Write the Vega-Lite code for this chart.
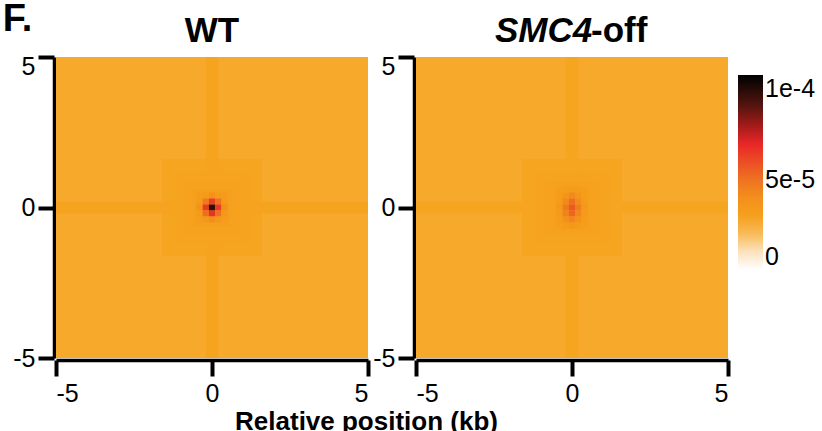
{
  "$schema": "https://vega.github.io/schema/vega-lite/v6.json",
  "background": "white",
  "padding": {"left": 2, "top": 1, "right": 0, "bottom": 0},
  "config": {
    "font": "Liberation Sans",
    "view": {"stroke": null},
    "title": {"fontSize": 35, "fontWeight": "bold", "color": "black", "frame": "group", "offset": 5},
    "axis": {
      "grid": false,
      "domainColor": "black",
      "domainWidth": 3.5,
      "tickColor": "black",
      "tickWidth": 4,
      "tickSize": 16,
      "labelFontSize": 25,
      "labelColor": "black",
      "labelPadding": 5,
      "labelExpr": "'' + datum.value",
      "offset": 2,
      "titleFontSize": 26,
      "titleFontWeight": "bold",
      "titleColor": "black"
    },
    "legend": {
      "orient": "right",
      "padding": 18,
      "offset": -10,
      "gradientLength": 195,
      "gradientThickness": 25,
      "gradientStrokeWidth": 0,
      "labelFontSize": 25,
      "labelColor": "black",
      "labelOffset": 4
    }
  },
  "title": {"text": "F.", "anchor": "start", "frame": "bounds", "fontSize": 38, "offset": 14, "dx": -10, "dy": 39},
  "bounds": "flush",
  "spacing": 48,
  "data": {
    "values": [
      {"p": "WT", "x": -5, "x2": 5, "y": -5, "y2": 5, "v": 2.5e-5},
      {"p": "WT", "x": -1.6, "x2": 1.6, "y": -1.6, "y2": 1.6, "v": 2.6e-5},
      {"p": "WT", "x": -0.2, "x2": 0.2, "y": -5, "y2": 5, "v": 2.75e-5},
      {"p": "WT", "x": -5, "x2": 5, "y": -0.2, "y2": 0.2, "v": 2.73e-5},
      {"p": "WT", "x": -1.2, "x2": 1.2, "y": -1.2, "y2": 1.2, "v": 2.72e-5},
      {"p": "WT", "x": -0.9, "x2": 0.9, "y": -0.9, "y2": 0.9, "v": 2.85e-5},
      {"p": "WT", "x": -0.6, "x2": 0.6, "y": -0.6, "y2": 0.6, "v": 3.05e-5},

      {"p": "WT", "x": -0.5, "x2": -0.3, "y": 0.3, "y2": 0.5, "v": 3.3e-5},
      {"p": "WT", "x": -0.3, "x2": -0.1, "y": 0.3, "y2": 0.5, "v": 3.5e-5},
      {"p": "WT", "x": -0.1, "x2": 0.1, "y": 0.3, "y2": 0.5, "v": 3.9e-5},
      {"p": "WT", "x": 0.1, "x2": 0.3, "y": 0.3, "y2": 0.5, "v": 3.5e-5},
      {"p": "WT", "x": 0.3, "x2": 0.5, "y": 0.3, "y2": 0.5, "v": 3.3e-5},

      {"p": "WT", "x": -0.5, "x2": -0.3, "y": 0.1, "y2": 0.3, "v": 3.5e-5},
      {"p": "WT", "x": -0.3, "x2": -0.1, "y": 0.1, "y2": 0.3, "v": 4.8e-5},
      {"p": "WT", "x": -0.1, "x2": 0.1, "y": 0.1, "y2": 0.3, "v": 6.4e-5},
      {"p": "WT", "x": 0.1, "x2": 0.3, "y": 0.1, "y2": 0.3, "v": 5.0e-5},
      {"p": "WT", "x": 0.3, "x2": 0.5, "y": 0.1, "y2": 0.3, "v": 3.5e-5},

      {"p": "WT", "x": -0.5, "x2": -0.3, "y": -0.1, "y2": 0.1, "v": 3.9e-5},
      {"p": "WT", "x": -0.3, "x2": -0.1, "y": -0.1, "y2": 0.1, "v": 6.5e-5},
      {"p": "WT", "x": -0.1, "x2": 0.1, "y": -0.1, "y2": 0.1, "v": 9.8e-5},
      {"p": "WT", "x": 0.1, "x2": 0.3, "y": -0.1, "y2": 0.1, "v": 6.5e-5},
      {"p": "WT", "x": 0.3, "x2": 0.5, "y": -0.1, "y2": 0.1, "v": 4.0e-5},

      {"p": "WT", "x": -0.5, "x2": -0.3, "y": -0.3, "y2": -0.1, "v": 3.5e-5},
      {"p": "WT", "x": -0.3, "x2": -0.1, "y": -0.3, "y2": -0.1, "v": 5.1e-5},
      {"p": "WT", "x": -0.1, "x2": 0.1, "y": -0.3, "y2": -0.1, "v": 6.7e-5},
      {"p": "WT", "x": 0.1, "x2": 0.3, "y": -0.3, "y2": -0.1, "v": 5.1e-5},
      {"p": "WT", "x": 0.3, "x2": 0.5, "y": -0.3, "y2": -0.1, "v": 3.6e-5},

      {"p": "WT", "x": -0.5, "x2": -0.3, "y": -0.5, "y2": -0.3, "v": 3.3e-5},
      {"p": "WT", "x": -0.3, "x2": -0.1, "y": -0.5, "y2": -0.3, "v": 3.6e-5},
      {"p": "WT", "x": -0.1, "x2": 0.1, "y": -0.5, "y2": -0.3, "v": 4.1e-5},
      {"p": "WT", "x": 0.1, "x2": 0.3, "y": -0.5, "y2": -0.3, "v": 3.6e-5},
      {"p": "WT", "x": 0.3, "x2": 0.5, "y": -0.5, "y2": -0.3, "v": 3.3e-5},

      {"p": "SMC4-off", "x": -5, "x2": 5, "y": -5, "y2": 5, "v": 2.5e-5},
      {"p": "SMC4-off", "x": -1.6, "x2": 1.6, "y": -1.6, "y2": 1.6, "v": 2.6e-5},
      {"p": "SMC4-off", "x": -0.2, "x2": 0.2, "y": -5, "y2": 5, "v": 2.62e-5},
      {"p": "SMC4-off", "x": -5, "x2": 5, "y": -0.2, "y2": 0.2, "v": 2.6e-5},
      {"p": "SMC4-off", "x": -1.2, "x2": 1.2, "y": -1.2, "y2": 1.2, "v": 2.72e-5},
      {"p": "SMC4-off", "x": -0.9, "x2": 0.9, "y": -0.9, "y2": 0.9, "v": 2.85e-5},
      {"p": "SMC4-off", "x": -0.6, "x2": 0.6, "y": -0.8, "y2": 0.8, "v": 3.0e-5},

      {"p": "SMC4-off", "x": -0.5, "x2": -0.3, "y": 0.5, "y2": 0.7, "v": 3.2e-5},
      {"p": "SMC4-off", "x": -0.3, "x2": -0.1, "y": 0.5, "y2": 0.7, "v": 3.3e-5},
      {"p": "SMC4-off", "x": -0.1, "x2": 0.1, "y": 0.5, "y2": 0.7, "v": 3.5e-5},
      {"p": "SMC4-off", "x": 0.1, "x2": 0.3, "y": 0.5, "y2": 0.7, "v": 3.3e-5},
      {"p": "SMC4-off", "x": 0.3, "x2": 0.5, "y": 0.5, "y2": 0.7, "v": 3.2e-5},

      {"p": "SMC4-off", "x": -0.5, "x2": -0.3, "y": 0.3, "y2": 0.5, "v": 3.3e-5},
      {"p": "SMC4-off", "x": -0.3, "x2": -0.1, "y": 0.3, "y2": 0.5, "v": 3.7e-5},
      {"p": "SMC4-off", "x": -0.1, "x2": 0.1, "y": 0.3, "y2": 0.5, "v": 4.2e-5},
      {"p": "SMC4-off", "x": 0.1, "x2": 0.3, "y": 0.3, "y2": 0.5, "v": 3.7e-5},
      {"p": "SMC4-off", "x": 0.3, "x2": 0.5, "y": 0.3, "y2": 0.5, "v": 3.3e-5},

      {"p": "SMC4-off", "x": -0.5, "x2": -0.3, "y": 0.1, "y2": 0.3, "v": 3.5e-5},
      {"p": "SMC4-off", "x": -0.3, "x2": -0.1, "y": 0.1, "y2": 0.3, "v": 4.3e-5},
      {"p": "SMC4-off", "x": -0.1, "x2": 0.1, "y": 0.1, "y2": 0.3, "v": 5.1e-5},
      {"p": "SMC4-off", "x": 0.1, "x2": 0.3, "y": 0.1, "y2": 0.3, "v": 4.2e-5},
      {"p": "SMC4-off", "x": 0.3, "x2": 0.5, "y": 0.1, "y2": 0.3, "v": 3.5e-5},

      {"p": "SMC4-off", "x": -0.5, "x2": -0.3, "y": -0.1, "y2": 0.1, "v": 3.6e-5},
      {"p": "SMC4-off", "x": -0.3, "x2": -0.1, "y": -0.1, "y2": 0.1, "v": 4.8e-5},
      {"p": "SMC4-off", "x": -0.1, "x2": 0.1, "y": -0.1, "y2": 0.1, "v": 5.7e-5},
      {"p": "SMC4-off", "x": 0.1, "x2": 0.3, "y": -0.1, "y2": 0.1, "v": 4.7e-5},
      {"p": "SMC4-off", "x": 0.3, "x2": 0.5, "y": -0.1, "y2": 0.1, "v": 3.6e-5},

      {"p": "SMC4-off", "x": -0.5, "x2": -0.3, "y": -0.3, "y2": -0.1, "v": 3.5e-5},
      {"p": "SMC4-off", "x": -0.3, "x2": -0.1, "y": -0.3, "y2": -0.1, "v": 4.5e-5},
      {"p": "SMC4-off", "x": -0.1, "x2": 0.1, "y": -0.3, "y2": -0.1, "v": 5.4e-5},
      {"p": "SMC4-off", "x": 0.1, "x2": 0.3, "y": -0.3, "y2": -0.1, "v": 4.4e-5},
      {"p": "SMC4-off", "x": 0.3, "x2": 0.5, "y": -0.3, "y2": -0.1, "v": 3.5e-5},

      {"p": "SMC4-off", "x": -0.5, "x2": -0.3, "y": -0.5, "y2": -0.3, "v": 3.3e-5},
      {"p": "SMC4-off", "x": -0.3, "x2": -0.1, "y": -0.5, "y2": -0.3, "v": 3.9e-5},
      {"p": "SMC4-off", "x": -0.1, "x2": 0.1, "y": -0.5, "y2": -0.3, "v": 4.4e-5},
      {"p": "SMC4-off", "x": 0.1, "x2": 0.3, "y": -0.5, "y2": -0.3, "v": 3.8e-5},
      {"p": "SMC4-off", "x": 0.3, "x2": 0.5, "y": -0.5, "y2": -0.3, "v": 3.3e-5},

      {"p": "SMC4-off", "x": -0.5, "x2": -0.3, "y": -0.7, "y2": -0.5, "v": 3.2e-5},
      {"p": "SMC4-off", "x": -0.3, "x2": -0.1, "y": -0.7, "y2": -0.5, "v": 3.4e-5},
      {"p": "SMC4-off", "x": -0.1, "x2": 0.1, "y": -0.7, "y2": -0.5, "v": 3.6e-5},
      {"p": "SMC4-off", "x": 0.1, "x2": 0.3, "y": -0.7, "y2": -0.5, "v": 3.4e-5},
      {"p": "SMC4-off", "x": 0.3, "x2": 0.5, "y": -0.7, "y2": -0.5, "v": 3.2e-5}
    ]
  },
  "hconcat": [
    {
      "width": 312,
      "height": 301,
      "title": {"text": "WT"},
      "transform": [{"filter": "datum.p == 'WT'"}],
      "mark": {"type": "rect"},
      "encoding": {
        "x": {
          "field": "x", "type": "quantitative",
          "scale": {"domain": [-5, 5], "nice": false, "zero": false},
          "axis": {"values": [-5, 0, 5], "title": "Relative position (kb)", "titleX": 310, "titleAlign": "center", "titlePadding": 2}
        },
        "x2": {"field": "x2"},
        "y": {
          "field": "y", "type": "quantitative",
          "scale": {"domain": [-5, 5], "nice": false, "zero": false},
          "axis": {"values": [-5, 0, 5], "title": null, "labelPadding": 3, "labelOffset": {"condition": {"test": "datum.value == 5", "value": 9}, "value": 0}}
        },
        "y2": {"field": "y2"},
        "color": {
          "field": "v", "type": "quantitative",
          "scale": {
            "domain": [0, 0.7e-5, 1.66e-5, 2.6e-5, 3.43e-5, 4.26e-5, 5.26e-5, 6.09e-5, 7.2e-5, 8.3e-5, 9.25e-5, 1.08e-4],
            "range": ["#ffffff", "#fdeedd", "#f9c87a", "#f6a520", "#f59b1a", "#f28a1d", "#ee6a22", "#ec4a25", "#e61e28", "#8a1a15", "#4a1510", "#000000"],
            "interpolate": "rgb",
            "clamp": true
          },
          "legend": {
            "title": null,
            "values": [0, 5e-5, 1e-4],
            "labelExpr": "datum.value == 0 ? '0' : format(datum.value, '.0e')"
          }
        }
      }
    },
    {
      "bounds": "flush",
      "title": {"text": "SMC4", "fontStyle": "italic", "anchor": "start", "dx": 79, "dy": 40},
      "hconcat": [
        {
          "width": 312,
          "height": 301,
          "title": {"text": "-off", "anchor": "start", "dx": 175},
          "transform": [{"filter": "datum.p == 'SMC4-off'"}],
          "mark": {"type": "rect"},
          "encoding": {
            "x": {
              "field": "x", "type": "quantitative",
              "scale": {"domain": [-5, 5], "nice": false, "zero": false},
              "axis": {"values": [-5, 0, 5], "title": null}
            },
            "x2": {"field": "x2"},
            "y": {
              "field": "y", "type": "quantitative",
              "scale": {"domain": [-5, 5], "nice": false, "zero": false},
              "axis": {"values": [-5, 0, 5], "title": null, "labelPadding": 3, "labelOffset": {"condition": {"test": "datum.value == 5", "value": 9}, "value": 0}}
            },
            "y2": {"field": "y2"},
            "color": {"field": "v", "type": "quantitative"}
          }
        }
      ]
    }
  ]
}
